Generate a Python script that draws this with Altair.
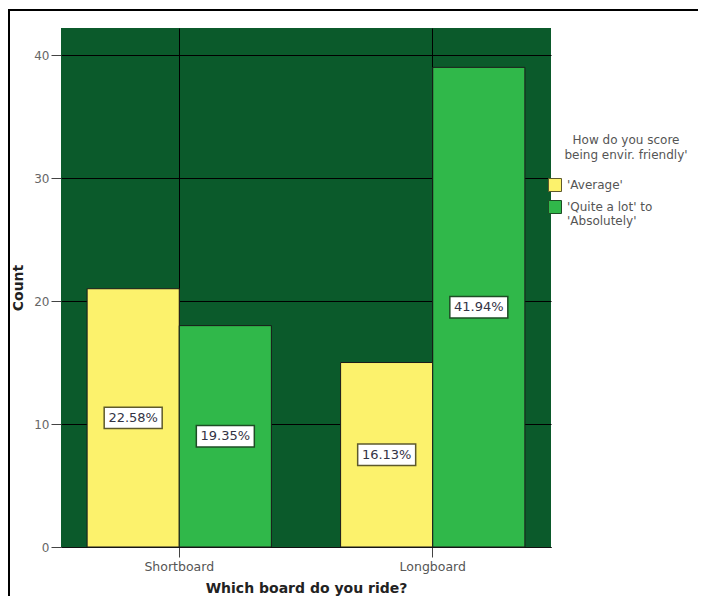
import altair as alt
import pandas as pd

boards = ["Shortboard", "Shortboard", "Longboard", "Longboard"]
groups = ["'Average'", "'Quite a lot' to|'Absolutely'", "'Average'", "'Quite a lot' to|'Absolutely'"]
counts = [21, 18, 15, 39]
pct_labels = ["22.58%", "19.35%", "16.13%", "41.94%"]

board_order = ["Shortboard", "Longboard"]
group_order = ["'Average'", "'Quite a lot' to|'Absolutely'"]
group_colors = ["#fcf26c", "#30b84a"]
box_strokes = ["#5e5a2c", "#1d4d25"]
legend_title = ["How do you score", "being envir. friendly'"]

df = pd.DataFrame({"board": boards, "group": groups, "count": counts, "pct": pct_labels})
df["mid"] = df["count"] / 2

FONT = "DejaVu Sans"

x_enc = alt.X(
    "board:N",
    sort=board_order,
    scale=alt.Scale(paddingInner=0.273, paddingOuter=0.103),
    axis=alt.Axis(
        title="Which board do you ride?",
        labelAngle=0,
        grid=True,
        gridColor="#000000",
        gridWidth=1,
        tickColor="#444444",
        tickSize=10,
        labelColor="#555555",
        labelFontSize=12.5,
        labelPadding=3,
        domainColor="#111111",
        titleFontSize=14,
        titleFontWeight="bold",
        titleColor="#222222",
        titlePadding=9,
    ),
)
xo_enc = alt.XOffset("group:N", sort=group_order, scale=alt.Scale(paddingInner=0, paddingOuter=0))
y_scale = alt.Scale(domain=[0, 42.2], nice=False)

bars = alt.Chart(df).mark_bar(stroke="#1a1a1a", strokeWidth=1).encode(
    x=x_enc,
    xOffset=xo_enc,
    y=alt.Y(
        "count:Q",
        scale=y_scale,
        axis=alt.Axis(
            title="Count",
            values=[0, 10, 20, 30, 40],
            grid=True,
            gridColor="#000000",
            gridWidth=1,
            tickColor="#444444",
            tickSize=10,
            labelColor="#666666",
            labelFontSize=12,
            labelPadding=2,
            domain=False,
            titleFontSize=14,
            titleFontWeight="bold",
            titleColor="#222222",
            titlePadding=8,
        ),
    ),
    color=alt.Color(
        "group:N",
        sort=group_order,
        scale=alt.Scale(domain=group_order, range=group_colors),
        legend=alt.Legend(
            title=None,
            orient="none",
            legendX=487,
            legendY=150,
            labelFontSize=12,
            labelColor="#555555",
            labelExpr="split(datum.label, '|')",
            labelOffset=5,
            symbolType="square",
            symbolSize=169,
            symbolStrokeColor="#222222",
            symbolStrokeWidth=1,
            symbolOpacity=1,
            rowPadding=4,
        ),
    ),
)

box_path = "M-1,-0.37 L1,-0.37 L1,0.37 L-1,0.37 Z"
boxes = alt.Chart(df).mark_point(
    shape=box_path, size=3364, filled=True, fill="white", strokeWidth=1.5, opacity=1
).encode(
    x=alt.X("board:N", sort=board_order),
    xOffset=alt.XOffset("group:N", sort=group_order),
    y=alt.Y("mid:Q", scale=y_scale),
    stroke=alt.Stroke("group:N", scale=alt.Scale(domain=group_order, range=box_strokes), legend=None),
)

texts = alt.Chart(df).mark_text(font=FONT, fontSize=13, color="#333344").encode(
    x=alt.X("board:N", sort=board_order),
    xOffset=alt.XOffset("group:N", sort=group_order),
    y=alt.Y("mid:Q", scale=y_scale),
    text="pct:N",
)

title_df = pd.DataFrame({"t": ["\n".join(legend_title)]})
legend_title_text = alt.Chart(title_df).mark_text(
    font=FONT, fontSize=12, color="#555555", align="center", baseline="top", lineBreak="\n", lineHeight=15
).encode(x=alt.value(565), y=alt.value(107), text="t:N")

frame = pd.DataFrame({"k": [0]})
top_border = alt.Chart(frame).mark_rule(color="#000000", strokeWidth=2).encode(
    x=alt.value(-53), x2=alt.value(640), y=alt.value(-18)
)
left_border = alt.Chart(frame).mark_rule(color="#000000", strokeWidth=2).encode(
    x=alt.value(-52), y=alt.value(-18), y2=alt.value(570)
)

chart = (
    alt.layer(bars, boxes, texts, legend_title_text, top_border, left_border)
    .properties(
        width=490,
        height=519,
        autosize=alt.AutoSizeParams(type="none"),
        padding={"left": 53, "top": 20, "right": 147, "bottom": 49},
    )
    .configure(font=FONT)
    .configure_view(fill="#0b5a2b", strokeWidth=0)
)

chart.save("out.html", embed_options={"renderer": "svg", "actions": False})
